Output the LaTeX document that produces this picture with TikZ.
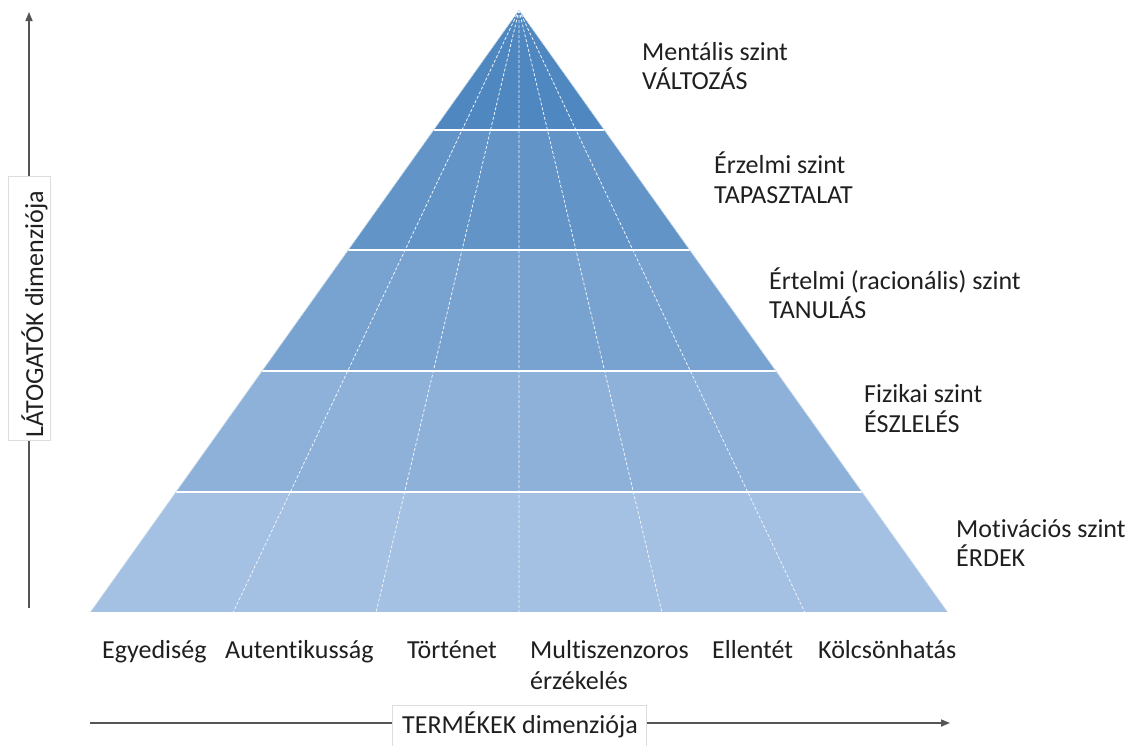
\documentclass[tikz,border=0pt]{standalone}
\usepackage{fontspec}
\setmainfont{Carlito}[Ligatures=NoCommon]
\usetikzlibrary{arrows.meta}
\definecolor{bandA}{HTML}{4F87C0}
\definecolor{bandB}{HTML}{6394C8}
\definecolor{bandC}{HTML}{78A3D1}
\definecolor{bandD}{HTML}{8EB1DA}
\definecolor{bandE}{HTML}{A4C0E3}
\definecolor{axisgray}{HTML}{555555}
\definecolor{boxgray}{HTML}{DDDDDD}
\begin{document}
\begin{tikzpicture}[x=1pt,y=-1pt,
  txt/.style={font=\fontsize{26}{30}\selectfont, text=black!88, inner sep=0pt, anchor=base west},
  band/.style={draw=white, line width=1.6pt, line join=miter},
  divider/.style={draw=white!90!bandB, line width=0.8pt, dash pattern=on 3pt off 2pt},
  axis/.style={draw=axisgray, line width=1.6pt, -{Triangle[length=9pt,width=7pt]}},
  axisbox/.style={fill=white, draw=boxgray, line width=0.6pt, inner sep=0pt}]
\useasboundingbox (0,0) rectangle (1133,745);

% pyramid corners and the band edges
\coordinate (apex) at (519,10);
\coordinate (l1) at (433.6,130); \coordinate (r1) at (604.4,130);
\coordinate (l2) at (348.2,250); \coordinate (r2) at (689.8,250);
\coordinate (l3) at (262.0,371); \coordinate (r3) at (776.0,371);
\coordinate (l4) at (175.9,492); \coordinate (r4) at (862.1,492);
\coordinate (l5) at (90.5,612);  \coordinate (r5) at (947.5,612);

% bands, from top to bottom
\fill[bandA] (apex) -- (r1) -- (l1) -- cycle;
\fill[bandB] (l1) -- (r1) -- (r2) -- (l2) -- cycle;
\fill[bandC] (l2) -- (r2) -- (r3) -- (l3) -- cycle;
\fill[bandD] (l3) -- (r3) -- (r4) -- (l4) -- cycle;
\fill[bandE] (l4) -- (r4) -- (r5) -- (l5) -- cycle;

% base points of the product columns
\foreach \i in {1,...,5} {
  \coordinate (b\i) at ({90.5+142.83*\i},612);
  \draw[divider] (apex) -- (b\i);
}

% band separators
\draw[band] (l1) -- (r1);
\draw[band] (l2) -- (r2);
\draw[band] (l3) -- (r3);
\draw[band] (l4) -- (r4);
\draw[white, line width=0.8pt] (l5) -- (r5);
\draw[white!70!bandB, line width=0.6pt] (l5) -- (apex) -- (r5);

% level labels
\node[txt] (lv1a) at (642,60)  {Mentális szint};
\node[txt] (lv1b) at (642,89)  {VÁLTOZÁS};
\node[txt] (lv2a) at (714,173) {Érzelmi szint};
\node[txt] (lv2b) at (714,203) {TAPASZTALAT};
\node[txt] (lv3a) at (769,289) {Értelmi (racionális) szint};
\node[txt] (lv3b) at (769,318) {TANULÁS};
\node[txt] (lv4a) at (864,402) {Fizikai szint};
\node[txt] (lv4b) at (864,432) {ÉSZLELÉS};
\node[txt] (lv5a) at (956,537) {Motivációs szint};
\node[txt] (lv5b) at (956,566) {ÉRDEK};

% product labels
\node[txt] (p1)  at (102,658) {Egyediség};
\node[txt] (p2)  at (225,658) {Autentikusság};
\node[txt] (p3)  at (407,658) {Történet};
\node[txt] (p4a) at (530,658) {Multiszenzoros};
\node[txt] (p4b) at (530,689) {érzékelés};
\node[txt] (p5)  at (712,658) {Ellentét};
\node[txt] (p6)  at (818,658) {Kölcsönhatás};

% visitor axis
\coordinate (vstart) at (29,608);
\coordinate (vend) at (29,12);
\draw[axis] (vstart) -- (vend);
\node[axisbox, minimum width=42pt, minimum height=264pt] (vbox) at (29,308) {};
\node[txt, rotate=90] (vlabel) at (43,438) {LÁTOGATÓK dimenziója};

% product axis
\coordinate (hstart) at (90,723);
\coordinate (hend) at (950,723);
\draw[axis] (hstart) -- (hend);
\node[axisbox, minimum width=254pt, minimum height=60pt] (hbox) at (519,735) {};
\node[txt] (hlabel) at (402,733) {TERMÉKEK dimenziója};
\end{tikzpicture}
\end{document}
